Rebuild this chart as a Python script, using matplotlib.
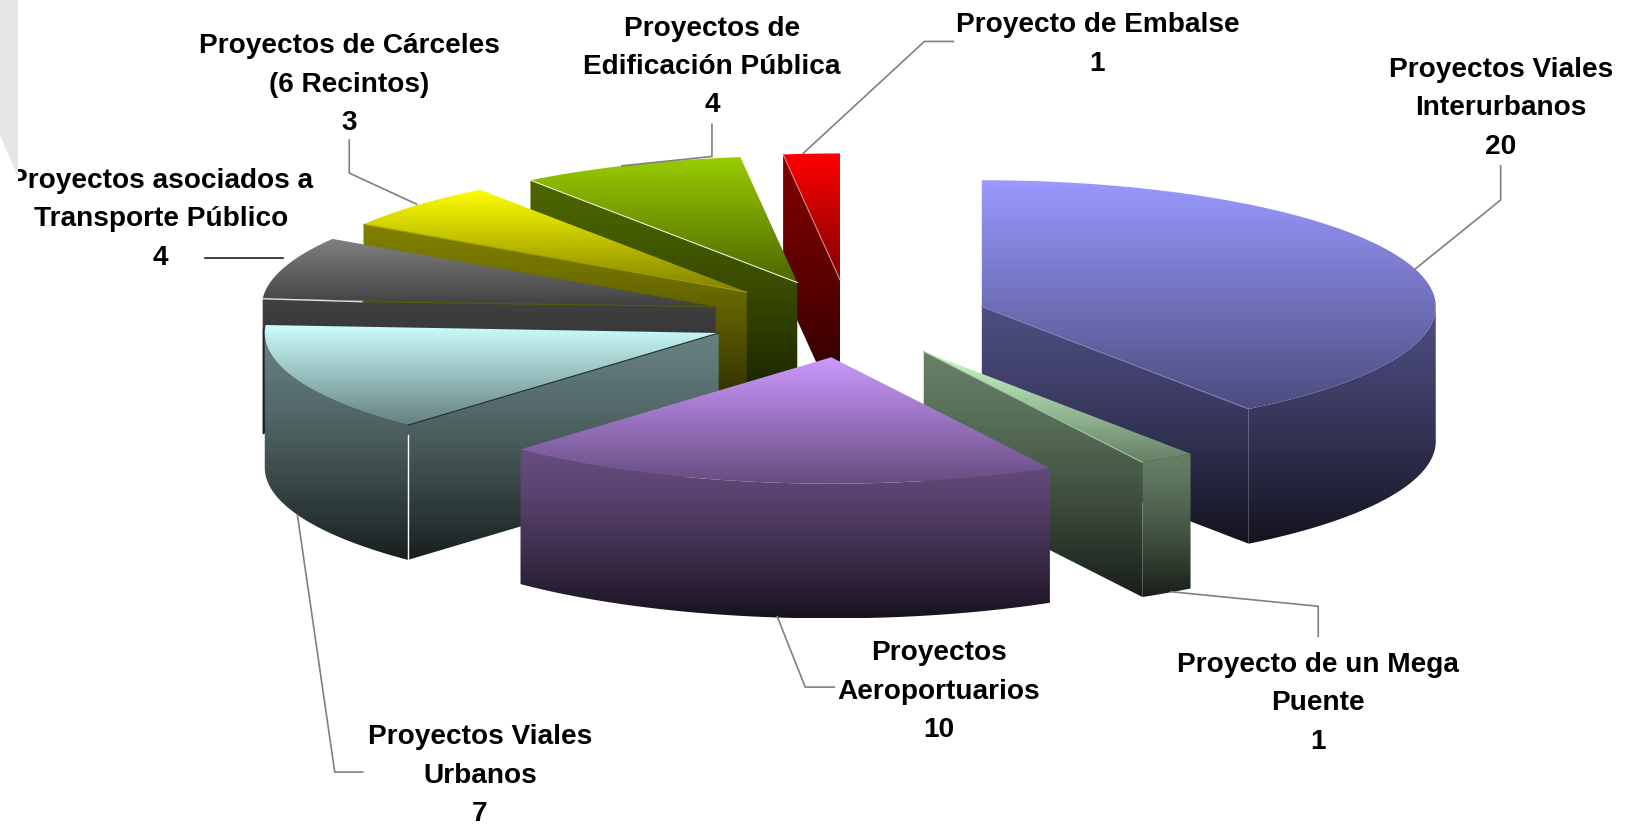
import numpy as np
import matplotlib
matplotlib.use("Agg")
import matplotlib.pyplot as plt
from matplotlib.patches import Polygon
from matplotlib.transforms import Bbox

labels = [
    "Proyectos Viales\nInterurbanos",
    "Proyecto de un Mega\nPuente",
    "Proyectos\nAeroportuarios",
    "Proyectos Viales\nUrbanos",
    "Proyectos asociados a\nTransporte Público",
    "Proyectos de Cárceles\n(6 Recintos)",
    "Proyectos de\nEdificación Pública",
    "Proyecto de Embalse",
]
values = [20, 1, 10, 7, 4, 3, 4, 1]
colors = ["#9999FF", "#CCFFCC", "#CC99FF", "#CCFFFF", "#808080", "#FFFF00", "#99CC00", "#FF0000"]
edge_colors = ["#8080b0", "#a0c8a0", None, "#203030", None, "#a0a000", "#e8f0d0", "#e08080"]

# back to front
draw_order = [7, 6, 5, 4, 3, 0, 1, 2]

# pie geometry, in pixels of the 1625x825 picture
S = 1625 / 1568
CX, CY = 819 * S, 307.5 * S
RX, RY = 438 * S, 122 * S
DEPTH = 130 * S
EX, EY = 135 * S, 37.5 * S

label_pos = [
    (1448, 65), (1272, 639), (906, 628), (463, 709),
    (155, 172), (337, 42), (687, 25), (1059, 22),
]
leaders = [
    [(1448, 160), (1448, 193), (1365, 260)],
    [(1130, 571), (1272, 585), (1272, 614)],
    [(750, 595), (777, 663), (805, 663)],
    [(287, 497), (323, 745), (350, 745)],
    [(198, 249), (273, 249)],
    [(337, 135), (337, 167), (402, 197)],
    [(687, 120), (687, 151), (600, 160)],
    [(920, 40), (892, 40), (775, 148)],
]

plt.rcParams["font.family"] = ["Liberation Sans", "DejaVu Sans"]

fig = plt.figure(figsize=(16.25, 8.25), dpi=100)
ax = fig.add_axes([0, 0, 1, 1])
ax.axis("off")


def gradient(face, c, f0, f1, z, power=1.0):
    # vertical shade clipped to the face, runs over the face's own height
    rgb = np.array(matplotlib.colors.to_rgb(c))
    t = np.linspace(0, 1, 128) ** power
    f = (f0 + (f1 - f0) * t)[:, None, None]
    img = (f * rgb[None, None, :]).clip(0, 1)
    xs, ys = face[:, 0], face[:, 1]
    im = ax.imshow(img, extent=(xs.min() - 2, xs.max() + 2, ys.max(), ys.min()), aspect="auto",
                   interpolation="bilinear", zorder=z)
    im.set_clip_path(Polygon(face, closed=True, transform=ax.transData))


ax.add_patch(Polygon(np.array([(0, 0), (18, 0), (18, 177), (0, 135)]), color="#e6e6e6", lw=0, zorder=0))

total = sum(values)
angles = np.cumsum([0] + values) / total * 360.0
z = 1
for i in draw_order:
    a0, a1 = angles[i], angles[i + 1]
    mid = np.radians((a0 + a1) / 2)
    ox = CX + EX * np.sin(mid)
    oy = CY - EY * np.cos(mid)

    def pt(deg):
        r = np.radians(deg)
        return np.column_stack([ox + RX * np.sin(r), oy - RY * np.cos(r)])

    arc = pt(np.linspace(a0, a1, 120))
    apex = np.array([[ox, oy]])
    drop = np.array([0, DEPTH])
    top = np.vstack([apex, arc])

    faces = []
    if np.sin(np.radians(a0)) < -1e-6:
        faces.append(np.vstack([apex, arc[:1], arc[:1] + drop, apex + drop]))
    if np.sin(np.radians(a1)) > 1e-6:
        faces.append(np.vstack([apex, arc[-1:], arc[-1:] + drop, apex + drop]))
    lo, hi = max(a0, 90), min(a1, 270)
    if hi > lo:
        band = pt(np.linspace(lo, hi, 120))
        faces.append(np.vstack([band, band[::-1] + drop]))

    for face in faces:
        gradient(face, colors[i], 0.5, 0.12, z, power=1.3)
        z += 1
    gradient(top, colors[i], 1.0, 0.5, z)
    z += 1

    # thin light or dark line along the front radial edge
    if edge_colors[i]:
        end = arc[:1] if np.sin(np.radians(a0)) < 0 else arc[-1:]
        ax.plot([ox, end[0, 0]], [oy, end[0, 1]], color=edge_colors[i], lw=0.8, zorder=z)
        if i == 3:
            ax.plot([end[0, 0]] * 2, [end[0, 1] + 10, end[0, 1] + DEPTH], color="white", lw=1.0, zorder=z)
        z += 1

    if i == 4:
        # seam left between this slice and the next one along its front edge
        end = arc[0]
        ax.plot([end[0], 350 * S], [end[1], end[1] + 3], color="#e0e0e0", lw=1.0, zorder=z)
        ax.plot([350 * S, ox], [end[1] + 3, oy], color="#5a5a00", lw=0.8, zorder=z)
        ax.plot([end[0], end[0]], [end[1] + 30, end[1] + DEPTH], color="#202020", lw=1.0, zorder=z)
        z += 1

for i in range(len(values)):
    pts = np.array(leaders[i]) * S
    c = "#202020" if i == 4 else "#808080"
    ax.plot(pts[:, 0], pts[:, 1], color=c, lw=1.2, zorder=z)

    x, y = label_pos[i]
    t = ax.text(x * S, (y - 10) * S, f"{labels[i]}\n{values[i]}", ha="center", va="top",
                fontsize=20.2, fontweight="bold", color="black", linespacing=1.62, zorder=z + 1)
    if i == 4:
        # the left end of this label is cut off in the picture
        t.set_clip_box(Bbox([[18, 0], [1625, 825]]))
        t.set_clip_on(True)

ax.set_xlim(0, 1625)
ax.set_ylim(825, 0)
fig.savefig("out.png", dpi=100, facecolor="white")
